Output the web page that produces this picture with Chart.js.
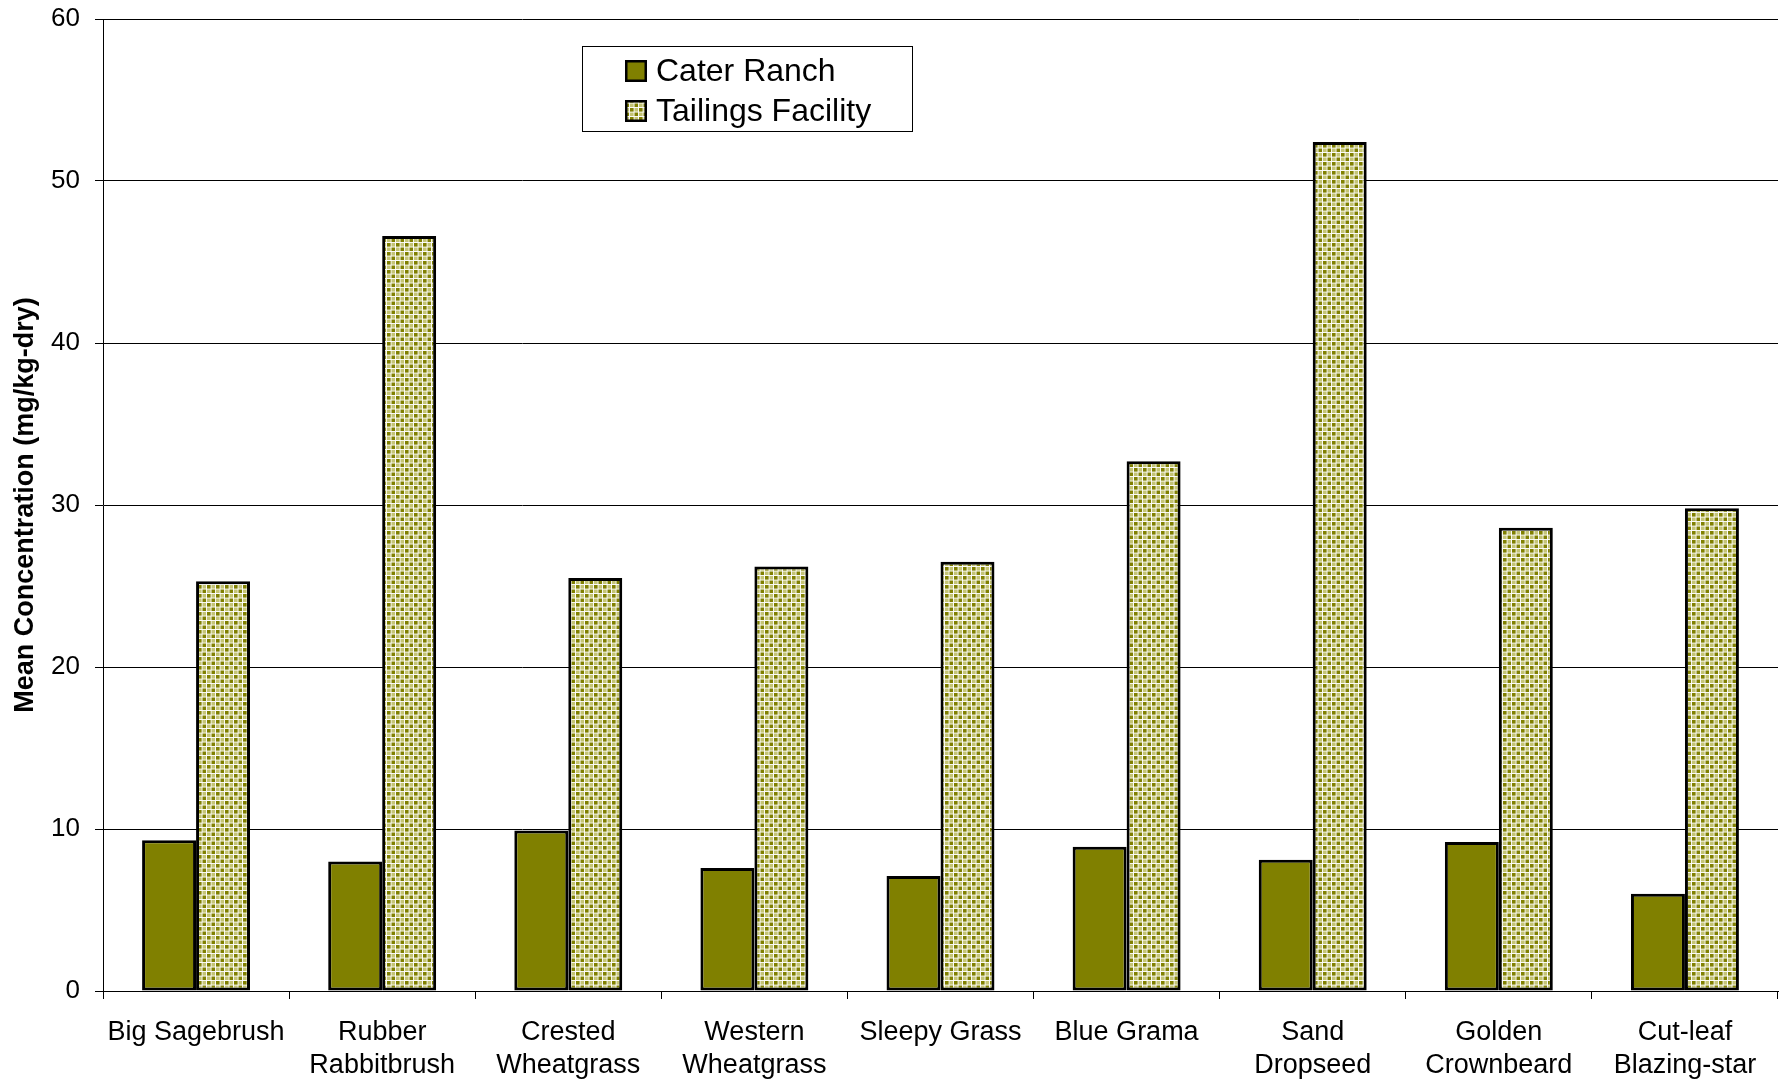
<!DOCTYPE html>
<html>
<head>
<meta charset="utf-8">
<script src="https://cdn.jsdelivr.net/npm/chart.js@4.4.1/dist/chart.umd.min.js"></script>
<style>
  html, body { margin: 0; padding: 0; background: #fff; }
  #wrap { width: 1788px; height: 1083px; position: relative; }
</style>
</head>
<body>
<div id="wrap"><canvas id="c" width="1788" height="1083"></canvas></div>
<script>
// Plant species sampled
const categories = [
  ['Big Sagebrush'],
  ['Rubber', 'Rabbitbrush'],
  ['Crested', 'Wheatgrass'],
  ['Western', 'Wheatgrass'],
  ['Sleepy Grass'],
  ['Blue Grama'],
  ['Sand', 'Dropseed'],
  ['Golden', 'Crownbeard'],
  ['Cut-leaf', 'Blazing-star']
];
const seriesNames = ['Cater Ranch', 'Tailings Facility'];
// Mean concentration, mg/kg dry weight
const caterRanch = [9.3, 8.0, 9.9, 7.6, 7.1, 8.9, 8.1, 9.2, 6.0];
const tailingsFacility = [25.3, 46.6, 25.5, 26.2, 26.5, 32.7, 52.4, 28.6, 29.8];
const yTicks = [0, 10, 20, 30, 40, 50, 60];

const OLIVE = '#808000';
const PALE_OLIVE = '#c4c476';
const FONT = "'Liberation Sans', Arial, sans-serif";

// small checkerboard fill for the second series
function checkerPattern(ctx) {
  const t = document.createElement('canvas');
  t.width = 10; t.height = 10;
  const g = t.getContext('2d');
  g.fillStyle = '#ffffff';
  g.fillRect(0, 0, 10, 10);
  g.fillStyle = OLIVE;
  g.fillRect(0, 0, 4, 4);
  g.fillRect(5, 5, 4, 4);
  g.fillStyle = PALE_OLIVE;
  g.fillRect(5, 0, 4, 4);
  g.fillRect(0, 5, 4, 4);
  const p = ctx.createPattern(t, 'repeat');
  if (p.setTransform) p.setTransform(new DOMMatrix().scale(0.9));
  return p;
}
const ctxMain = document.getElementById('c').getContext('2d');
const pattern = checkerPattern(ctxMain);

// boxed legend inside the plot area
const boxLegend = {
  id: 'boxLegend',
  afterDraw(chart) {
    const ctx = chart.ctx;
    ctx.save();
    ctx.fillStyle = '#fff';
    ctx.fillRect(582.5, 46.5, 330, 85);
    ctx.strokeStyle = '#000';
    ctx.lineWidth = 1;
    ctx.strokeRect(582.5, 46.5, 330, 85);
    const rows = [60, 100];
    chart.data.datasets.forEach((ds, i) => {
      const y = rows[i];
      ctx.fillStyle = ds.backgroundColor;
      ctx.fillRect(625, y, 22, 22);
      ctx.lineWidth = 2.5;
      ctx.strokeStyle = '#000';
      ctx.strokeRect(626.25, y + 1.25, 19.5, 19.5);
      ctx.fillStyle = '#000';
      ctx.font = '32px ' + FONT;
      ctx.textBaseline = 'alphabetic';
      ctx.textAlign = 'left';
      ctx.fillText(ds.label, 656, y + 21);
    });
    ctx.restore();
  }
};

new Chart(ctxMain, {
  type: 'bar',
  data: {
    labels: categories,
    datasets: [
      {
        label: seriesNames[0],
        data: caterRanch,
        backgroundColor: OLIVE,
        borderColor: '#000',
        borderWidth: 3,
        borderSkipped: false
      },
      {
        label: seriesNames[1],
        data: tailingsFacility,
        backgroundColor: pattern,
        borderColor: '#000',
        borderWidth: 3,
        borderSkipped: false
      }
    ]
  },
  options: {
    responsive: false,
    animation: false,
    events: [],
    layout: { padding: { left: 0, right: 10, top: 19, bottom: 0 } },
    datasets: { bar: { categoryPercentage: 0.58, barPercentage: 1.0 } },
    plugins: {
      legend: { display: false },
      tooltip: { enabled: false }
    },
    scales: {
      x: {
        grid: {
          offset: true,
          drawOnChartArea: false,
          drawTicks: true,
          tickLength: 8,
          color: '#000',
          lineWidth: 1
        },
        border: { display: true, color: '#000', width: 1 },
        ticks: {
          color: '#000',
          font: { family: FONT, size: 27, lineHeight: 1.22 },
          padding: 17,
          maxRotation: 0,
          autoSkip: false
        },
        afterFit(scale) { scale.height = 92; }
      },
      y: {
        min: 0,
        max: 60,
        afterBuildTicks(scale) { scale.ticks = yTicks.map(v => ({ value: v })); },
        grid: {
          color: '#000',
          lineWidth: 1,
          drawTicks: true,
          tickLength: 8
        },
        border: { display: true, color: '#000', width: 1 },
        ticks: {
          color: '#000',
          font: { family: FONT, size: 26 },
          padding: 15
        },
        title: {
          display: true,
          text: 'Mean Concentration (mg/kg-dry)',
          color: '#000',
          font: { family: FONT, size: 27, weight: 'bold', lineHeight: 1.2 },
          padding: { top: 9, bottom: 0 }
        },
        afterFit(scale) {
          scale.width = 103;
          scale.paddingTop = 0;
          scale.paddingBottom = 0;
        }
      }
    }
  },
  plugins: [boxLegend]
});
</script>
</body>
</html>
